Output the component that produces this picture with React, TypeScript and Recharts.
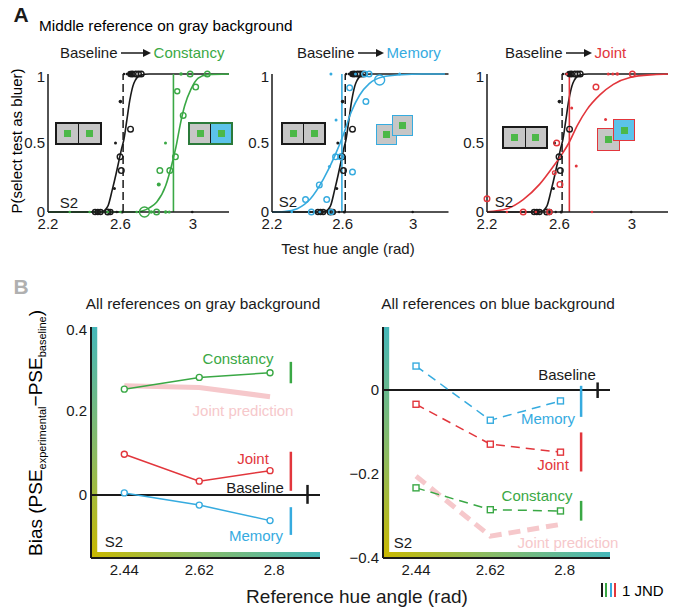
import React from "react";
import {
  ComposedChart,
  Line,
  Scatter,
  XAxis,
  YAxis,
  ReferenceLine,
  ReferenceArea,
} from "recharts";

const FONT = "'Liberation Sans', Arial, Helvetica, sans-serif";
const BLACK = "#1a1a1a";
const GREEN = "#3aa845";
const BLUE = "#36abdf";
const RED = "#e2363c";
const PINK = "#f6c8cb";
const TEAL = "#45b7ba";
const OLIVE = "#c9b800";
const GRAY_BOX = "#c6c6c6";
const INSET_GREEN = "#4cb848";
const INSET_BLUE = "#5cc3ea";

type Pt = [number, number, number]; // x, y, radius

// ---------- panel A : psychometric functions ----------
const testTicks = [2.2, 2.6, 3];
const probTicks = [0, 0.5, 1];

const baselineCurveX = [2.2, 2.46, 2.5, 2.53, 2.555, 2.575, 2.59, 2.605, 2.62, 2.635, 2.652, 2.675, 2.71, 2.76, 3.2];
const baselineCurveY = [0, 0, 0.004, 0.04, 0.16, 0.27, 0.36, 0.45, 0.53, 0.66, 0.81, 0.935, 0.99, 1, 1];
const baselinePse = 2.615;
const baselineOpen: Pt[] = [
  [2.665, 1, 2.8], [2.685, 1, 2.8], [2.7, 1, 2.8], [2.715, 1, 2.8],
  [2.656, 0.6, 2.8], [2.598, 0.4, 2.8], [2.605, 0.3, 2.8],
  [2.46, 0, 2.5], [2.475, 0, 2.5], [2.49, 0, 2.5], [2.53, 0, 2.8], [2.545, 0, 2.5],
];
const baselineFilled: Pt[] = [
  [2.6, 0.8, 1.8], [2.573, 0.5, 1.5], [2.567, 0.17, 1.5], [2.655, 1, 3.2],
  [2.62, 1, 1.2], [2.635, 1, 1.2], [2.645, 1, 1.2], [2.58, 0, 1.2], [2.61, 0, 1.5], [2.997, 0, 1.3],
];

const constancyCurveX = [2.2, 2.68, 2.72, 2.76, 2.8, 2.85, 2.885, 2.91, 2.93, 2.955, 2.99, 3.03, 3.08, 3.2];
const constancyCurveY = [0, 0, 0.008, 0.03, 0.07, 0.19, 0.35, 0.49, 0.63, 0.77, 0.89, 0.97, 0.995, 1];
const constancyPse = 2.893;
const constancyOpen: Pt[] = [
  [2.733, 0, 5], [2.8, 0, 2.8], [2.818, 0.3, 2.8], [2.873, 0.3, 2.8], [2.904, 0.4, 2.8],
  [2.947, 0.7, 2.8], [2.914, 0.875, 2.5], [3.016, 0.905, 2.8], [2.985, 1, 2.8], [3.08, 1, 2.8],
];
const constancyFilled: Pt[] = [
  [2.849, 0.5, 1.5], [2.812, 0.2, 2], [2.935, 1, 1.8], [2.32, 0, 1.3], [2.43, 0, 1.3],
  [2.53, 0, 1.3], [2.6, 0, 1.3], [2.69, 0, 1.3], [2.77, 0, 1.8], [2.85, 0, 1.8], [2.87, 0, 1.5],
];

const memoryCurveX = [2.2, 2.27, 2.343, 2.418, 2.492, 2.557, 2.603, 2.649, 2.696, 2.751, 2.825, 2.936, 3.05, 3.18];
const memoryCurveY = [0, 0.003, 0.024, 0.096, 0.24, 0.41, 0.556, 0.725, 0.846, 0.93, 0.978, 0.995, 1, 1];
const memoryPse = 2.596;
const memoryOpen: Pt[] = [
  [2.39, 0.09, 2.8], [2.468, 0.196, 2.8], [2.51, 0.09, 2.8], [2.56, 0.4, 2.8], [2.589, 0.4, 2.8],
  [2.656, 0.29, 2.8], [2.64, 0.9, 2.8], [2.732, 0.8, 2.8], [2.81, 0.957, 5], [2.725, 1, 2.8],
  [2.75, 1, 2.8], [2.423, 0, 2.8], [2.535, 0, 2.5],
];
const memoryFilled: Pt[] = [
  [2.563, 0.667, 1.5], [2.525, 0.33, 1.5], [2.673, 1, 1.5], [2.923, 1, 1.5], [2.534, 1, 1.5],
  [2.312, 0, 1.3], [2.47, 0, 1.3],
];

const jointCurveX = [2.2, 2.31, 2.4, 2.49, 2.566, 2.61, 2.652, 2.7, 2.751, 2.825, 2.898, 2.99, 3.119, 3.2];
const jointCurveY = [0.002, 0.024, 0.09, 0.2, 0.33, 0.41, 0.5, 0.63, 0.74, 0.85, 0.925, 0.975, 0.995, 1];
const jointPse = 2.655;
const jointOpen: Pt[] = [
  [2.2, 0.096, 2.8], [2.4, 0, 2.8], [2.585, 0.5, 2.8], [2.603, 0.2, 2.8], [2.802, 0.905, 2.8],
  [3.003, 1, 2.8], [2.545, 0, 2.5], [2.572, 0.285, 1.8],
];
const jointFilled: Pt[] = [
  [2.668, 0.754, 1.5], [2.855, 0.67, 1.5], [2.693, 0.333, 1.5], [2.87, 1, 1.5], [2.895, 1, 1.5],
  [2.92, 1, 1.8], [2.31, 0, 1.3], [2.78, 0, 1.3], [2.47, 0, 1.3], [2.64, 1, 1.3],
];

// ---------- panel B : biases ----------
const refHues = [2.44, 2.62, 2.79];
const refTicks = [2.44, 2.62, 2.8];
const grayTicks = [0, 0.2, 0.4];
const blueTicks = [-0.4, -0.2, 0];

const grayConstancy = [0.252, 0.28, 0.291];
const grayJointPred = [0.26, 0.256, 0.234];
const grayJoint = [0.097, 0.033, 0.058];
const grayMemory = [0.005, -0.024, -0.061];

const blueMemory = [0.057, -0.072, -0.026];
const blueJoint = [-0.034, -0.129, -0.148];
const blueConstancy = [-0.233, -0.285, -0.288];
const blueJointPred = [-0.205, -0.348, -0.32];

// one-JND bars: [low, high]
const jndX = 2.84;
const baselineTickX = 2.88;
const grayJnd = { constancy: [0.266, 0.317], joint: [0.01, 0.103], memory: [-0.095, -0.029], base: [-0.021, 0.024] };
const blueJnd = { memory: [-0.064, 0.01], joint: [-0.194, -0.101], constancy: [-0.311, -0.264], base: [-0.019, 0.018] };

const curve = (xs: number[], ys: number[]) => xs.map((x, i) => ({ x, y: ys[i] }));
const pts = (list: Pt[]) => list.map(([x, y, r]) => ({ x, y, r }));
const series = (ys: number[]) => refHues.map((x, i) => ({ x, y: ys[i] }));

const openDot = (color: string) => (p: any) =>
  <circle cx={p.cx} cy={p.cy} r={p.payload.r} fill="none" stroke={color} strokeWidth={1.4} />;
const fullDot = (color: string) => (p: any) =>
  <circle cx={p.cx} cy={p.cy} r={p.payload.r} fill={color} />;

const T = ({ x, y, size = 15, color = BLACK, weight = 400, children }: any) => (
  <div
    style={{
      position: "absolute", left: x, top: y, transform: "translate(-50%,-50%)",
      fontSize: size, color, fontWeight: weight, fontFamily: FONT, whiteSpace: "nowrap", lineHeight: 1,
    }}
  >
    {children}
  </div>
);

const Arrow = ({ w }: { w: number }) => (
  <svg width={w} height={10} style={{ margin: "0 3px" }}>
    <line x1={0} y1={5} x2={w - 7} y2={5} stroke={BLACK} strokeWidth={1.5} />
    <polygon points={`${w - 8},1 ${w},5 ${w - 8},9`} fill={BLACK} />
  </svg>
);

const Heading = ({ x, label, color, w }: any) => (
  <div
    style={{
      position: "absolute", left: x, top: 45, display: "flex", alignItems: "center",
      fontSize: 15, fontFamily: FONT, lineHeight: 1, whiteSpace: "nowrap",
    }}
  >
    <span style={{ color: BLACK }}>Baseline</span>
    <Arrow w={w} />
    <span style={{ color }}>{label}</span>
  </div>
);

const PairInset = ({ x, y, w, h, border, right }: any) => (
  <div
    style={{
      position: "absolute", left: x, top: y, width: w, height: h, border: `2px solid ${border}`,
      display: "flex", boxSizing: "border-box",
    }}
  >
    {[GRAY_BOX, right].map((bg, i) => (
      <div
        key={i}
        style={{
          flex: 1, background: bg, display: "flex", alignItems: "center", justifyContent: "center",
          borderLeft: i === 1 ? `1.5px solid ${BLACK}` : undefined,
        }}
      >
        <div style={{ width: 7, height: 7, background: INSET_GREEN }} />
      </div>
    ))}
  </div>
);

const SquareInset = ({ x, y, s, border, fill }: any) => (
  <div
    style={{
      position: "absolute", left: x, top: y, width: s, height: s, background: fill,
      border: `1.5px solid ${border}`, boxSizing: "border-box", display: "flex",
      alignItems: "center", justifyContent: "center",
    }}
  >
    <div style={{ width: 7, height: 7, background: INSET_GREEN }} />
  </div>
);

function PsychPlot({ left, width, xMax, cx, cy, pse, open, filled, color }: any) {
  const yw = 30;
  const tick = { fill: BLACK, fontSize: 15, fontFamily: FONT };
  return (
    <div style={{ position: "absolute", left: left - yw, top: 68 }}>
      <ComposedChart width={yw + width + 6} height={6 + 138 + 24} margin={{ top: 6, right: 6, bottom: 0, left: 0 }}>
        <XAxis
          type="number" dataKey="x" domain={[2.2, xMax]} ticks={testTicks} height={24}
          tickLine={false} tickSize={2} tickMargin={4} tick={tick}
          axisLine={{ stroke: BLACK, strokeWidth: 1.5 }}
        />
        <YAxis
          type="number" dataKey="y" domain={[0, 1]} ticks={probTicks} width={yw}
          tickLine={false} tickSize={2} tickMargin={1} tick={tick}
          axisLine={{ stroke: BLACK, strokeWidth: 1.5 }}
        />
        <Line data={curve(baselineCurveX, baselineCurveY)} dataKey="y" type="monotone" stroke={BLACK} strokeWidth={1.6} dot={false} isAnimationActive={false} />
        <ReferenceLine x={baselinePse} stroke={BLACK} strokeWidth={1.5} strokeDasharray="8 4" />
        <Line data={curve(cx, cy)} dataKey="y" type="monotone" stroke={color} strokeWidth={1.6} dot={false} isAnimationActive={false} />
        <ReferenceLine x={pse} stroke={color} strokeWidth={1.6} />
        <Scatter data={pts(baselineOpen)} dataKey="y" shape={openDot(BLACK)} isAnimationActive={false} />
        <Scatter data={pts(baselineFilled)} dataKey="y" shape={fullDot(BLACK)} isAnimationActive={false} />
        <Scatter data={pts(open)} dataKey="y" shape={openDot(color)} isAnimationActive={false} />
        <Scatter data={pts(filled)} dataKey="y" shape={fullDot(color)} isAnimationActive={false} />
      </ComposedChart>
    </div>
  );
}

const circleMark = (color: string) => (p: any) =>
  <circle key={p.index} cx={p.cx} cy={p.cy} r={3} fill="#fff" stroke={color} strokeWidth={1.4} />;
const squareMark = (color: string) => (p: any) =>
  <rect key={p.index} x={p.cx - 3} y={p.cy - 3} width={6} height={6} fill="#fff" stroke={color} strokeWidth={1.4} />;

function BiasPlot({ left, width, yDomain, yTicks, fmt, lines, pred, dashed, jnd, id }: any) {
  const yw = 40;
  const xDomain = [2.36, 2.91];
  const tick = { fill: BLACK, fontSize: 15, fontFamily: FONT };
  const mark = dashed ? squareMark : circleMark;
  return (
    <div style={{ position: "absolute", left: left - yw, top: 321 }}>
      <ComposedChart width={yw + width + 5} height={6 + 231 + 30} margin={{ top: 6, right: 5, bottom: 0, left: 0 }}>
        <defs>
          <linearGradient id={`${id}v`} x1="0" y1="0" x2="0" y2="1">
            <stop offset="0%" stopColor={TEAL} />
            <stop offset="55%" stopColor="#8cbb62" />
            <stop offset="100%" stopColor={OLIVE} />
          </linearGradient>
          <linearGradient id={`${id}h`} x1="0" y1="0" x2="1" y2="0">
            <stop offset="0%" stopColor={OLIVE} />
            <stop offset="45%" stopColor="#8cbb62" />
            <stop offset="100%" stopColor={TEAL} />
          </linearGradient>
        </defs>
        <XAxis
          type="number" dataKey="x" domain={xDomain} ticks={refTicks} height={30}
          tickLine={false} tickSize={3} tickMargin={3} tick={tick}
          axisLine={{ stroke: BLACK, strokeWidth: 2 }}
        />
        <YAxis
          type="number" dataKey="y" domain={yDomain} ticks={yTicks} width={yw} tickFormatter={fmt}
          tickLine={false} tickSize={2} tickMargin={2} tick={tick}
          axisLine={{ stroke: BLACK, strokeWidth: 2 }}
        />
        <ReferenceArea x1={xDomain[0]} x2={xDomain[0] + 0.015} y1={yDomain[0]} y2={yDomain[1]} fill={`url(#${id}v)`} fillOpacity={1} stroke="none" />
        <ReferenceArea x1={xDomain[0]} x2={xDomain[1]} y1={yDomain[0]} y2={yDomain[0] + 0.014} fill={`url(#${id}h)`} fillOpacity={1} stroke="none" />
        <ReferenceLine y={0} stroke={BLACK} strokeWidth={1.8} />
        <ReferenceLine segment={[{ x: baselineTickX, y: jnd.base[0] }, { x: baselineTickX, y: jnd.base[1] }]} stroke={BLACK} strokeWidth={2.5} />
        {jnd.bars.map((b: any, i: number) => (
          <ReferenceLine key={i} segment={[{ x: jndX, y: b.range[0] }, { x: jndX, y: b.range[1] }]} stroke={b.color} strokeWidth={2.5} />
        ))}
        <Line
          data={series(pred)} dataKey="y" type="linear" stroke={PINK} strokeWidth={5}
          strokeDasharray={dashed ? "12 7" : undefined} dot={false} isAnimationActive={false}
        />
        {lines.map((l: any) => (
          <Line
            key={l.color} data={series(l.values)} dataKey="y" type="linear" stroke={l.color} strokeWidth={1.5}
            strokeDasharray={dashed ? "9 6" : undefined} dot={mark(l.color)} isAnimationActive={false}
          />
        ))}
      </ComposedChart>
    </div>
  );
}

export default function App() {
  return (
    <div style={{ position: "absolute", left: 0, top: 0, width: 675, height: 613, background: "#fff", overflow: "hidden", fontFamily: FONT }}>
      {/* panel A */}
      <T x={21} y={14} size={21} weight={700}>A</T>
      <div style={{ position: "absolute", left: 39, top: 18, fontSize: 15.3, fontFamily: FONT, lineHeight: 1, whiteSpace: "nowrap" }}>
        Middle reference on gray background
      </div>
      <div
        style={{
          position: "absolute", left: 16, top: 141, transform: "translate(-50%,-50%) rotate(-90deg)",
          fontSize: 15, fontFamily: FONT, whiteSpace: "nowrap", lineHeight: 1,
        }}
      >
        P(select test as bluer)
      </div>

      <Heading x={60} label="Constancy" color={GREEN} w={30} />
      <Heading x={297} label="Memory" color={BLUE} w={26} />
      <Heading x={505} label="Joint" color={RED} w={26} />

      <PsychPlot left={47.5} width={181} xMax={3.2} cx={constancyCurveX} cy={constancyCurveY} pse={constancyPse} open={constancyOpen} filled={constancyFilled} color={GREEN} />
      <PsychPlot left={271.5} width={176.5} xMax={3.18} cx={memoryCurveX} cy={memoryCurveY} pse={memoryPse} open={memoryOpen} filled={memoryFilled} color={BLUE} />
      <PsychPlot left={487} width={181} xMax={3.2} cx={jointCurveX} cy={jointCurveY} pse={jointPse} open={jointOpen} filled={jointFilled} color={RED} />

      <PairInset x={55} y={122} w={47} h={23} border={BLACK} right={GRAY_BOX} />
      <PairInset x={188} y={122} w={45} h={23} border="#2b7a3a" right={INSET_BLUE} />
      <PairInset x={281} y={122} w={45} h={23} border={BLACK} right={GRAY_BOX} />
      <SquareInset x={376} y={124} s={21} border={BLUE} fill={GRAY_BOX} />
      <SquareInset x={392} y={115} s={21} border={BLUE} fill={GRAY_BOX} />
      <PairInset x={502} y={126} w={46} h={23} border={BLACK} right={GRAY_BOX} />
      <SquareInset x={597} y={128} s={23} border={RED} fill={GRAY_BOX} />
      <SquareInset x={613} y={119} s={22} border={RED} fill={INSET_BLUE} />

      <T x={69} y={202}>S2</T>
      <T x={288} y={201}>S2</T>
      <T x={504} y={201}>S2</T>
      <T x={348} y={248}>Test hue angle (rad)</T>

      {/* panel B */}
      <T x={21} y={286} size={21} weight={700} color="#b0b0b0">B</T>
      <T x={203} y={304} size={15.4}>All references on gray background</T>
      <T x={498} y={304} size={15.4}>All references on blue background</T>
      <div
        style={{
          position: "absolute", left: 37, top: 433, transform: "translate(-50%,-50%) rotate(-90deg)",
          fontSize: 19, fontFamily: FONT, whiteSpace: "nowrap", lineHeight: 1,
        }}
      >
        Bias (PSE<sub style={{ fontSize: 11 }}>experimental</sub>−PSE<sub style={{ fontSize: 11 }}>baseline</sub>)
      </div>

      <BiasPlot
        id="gray" left={91} width={229} yDomain={[-0.15, 0.4]} yTicks={grayTicks}
        fmt={(v: number) => String(v)} pred={grayJointPred} dashed={false}
        lines={[
          { color: GREEN, values: grayConstancy },
          { color: RED, values: grayJoint },
          { color: BLUE, values: grayMemory },
        ]}
        jnd={{
          base: grayJnd.base,
          bars: [
            { color: GREEN, range: grayJnd.constancy },
            { color: RED, range: grayJnd.joint },
            { color: BLUE, range: grayJnd.memory },
          ],
        }}
      />
      <BiasPlot
        id="blue" left={383} width={227} yDomain={[-0.4, 0.15]} yTicks={blueTicks}
        fmt={(v: number) => (v === 0 ? "0" : "\u2212" + Math.abs(v))} pred={blueJointPred} dashed={true}
        lines={[
          { color: GREEN, values: blueConstancy },
          { color: RED, values: blueJoint },
          { color: BLUE, values: blueMemory },
        ]}
        jnd={{
          base: blueJnd.base,
          bars: [
            { color: BLUE, range: blueJnd.memory },
            { color: RED, range: blueJnd.joint },
            { color: GREEN, range: blueJnd.constancy },
          ],
        }}
      />

      <T x={238} y={358} color={GREEN}>Constancy</T>
      <T x={243} y={410} color={PINK}>Joint prediction</T>
      <T x={253} y={458} color={RED}>Joint</T>
      <T x={255} y={487}>Baseline</T>
      <T x={256} y={535} color={BLUE}>Memory</T>
      <T x={114} y={541}>S2</T>

      <T x={567} y={374}>Baseline</T>
      <T x={548} y={418} color={BLUE}>Memory</T>
      <T x={553} y={464} color={RED}>Joint</T>
      <T x={537} y={495} color={GREEN}>Constancy</T>
      <T x={568} y={542} color={PINK}>Joint prediction</T>
      <T x={403} y={542}>S2</T>

      <T x={357} y={596} size={19}>Reference hue angle (rad)</T>

      {[BLACK, GREEN, BLUE, RED].map((c, i) => (
        <div key={c} style={{ position: "absolute", left: 601 + i * 4.3, top: 583, width: 2, height: 14, background: c }} />
      ))}
      <div style={{ position: "absolute", left: 622, top: 583, fontSize: 15, fontFamily: FONT, lineHeight: 1, whiteSpace: "nowrap" }}>
        1 JND
      </div>
    </div>
  );
}
